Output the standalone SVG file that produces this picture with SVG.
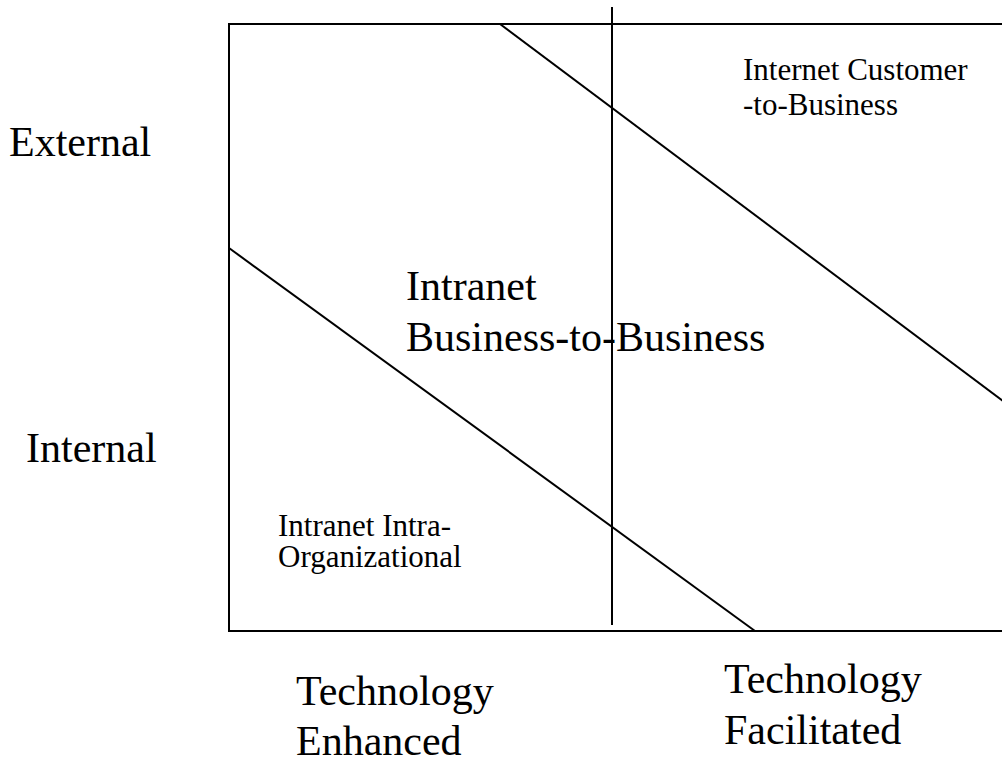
<svg xmlns="http://www.w3.org/2000/svg" width="1002" height="761" viewBox="0 0 1002 761">
<style>
.big{font-family:"Liberation Serif","Times New Roman",serif;font-size:42px;fill:#000}
.small{font-family:"Liberation Serif","Times New Roman",serif;font-size:31px;fill:#000}
.ln{stroke:#000;stroke-width:2;fill:none}
</style>
<rect x="0" y="0" width="1002" height="761" fill="#fff"/>
<g id="frame">
<polyline class="ln" points="1003,24 229,24 229,631 1003,631"/>
</g>
<g id="connectors">
<line class="ln" x1="612" y1="7" x2="612" y2="625"/>
<line class="ln" x1="500" y1="24" x2="1003" y2="401"/>
<line class="ln" x1="229" y1="248" x2="755" y2="631"/>
</g>
<g id="axis-external"><text class="big" x="9" y="156">External</text></g>
<g id="axis-internal"><text class="big" x="26" y="462">Internal</text></g>
<g id="node-b2b"><text class="big" x="406" y="300">Intranet</text><text class="big" x="406" y="351">Business-to-Business</text></g>
<g id="node-c2b"><text class="small" x="743" y="80">Internet Customer</text><text class="small" x="743" y="115">-to-Business</text></g>
<g id="node-intra"><text class="small" x="278" y="536">Intranet Intra-</text><text class="small" x="278" y="567">Organizational</text></g>
<g id="axis-enhanced"><text class="big" x="296" y="705">Technology</text><text class="big" x="296" y="755">Enhanced</text></g>
<g id="axis-facilitated"><text class="big" x="724" y="693">Technology</text><text class="big" x="724" y="744">Facilitated</text></g>
</svg>
